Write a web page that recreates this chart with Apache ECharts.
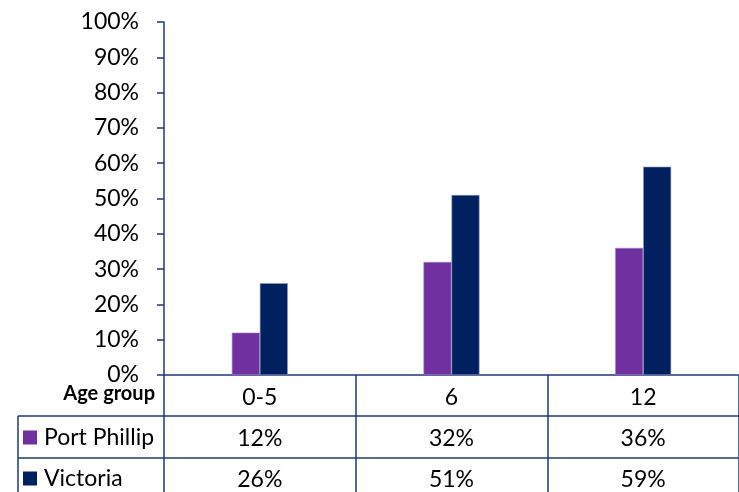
<!DOCTYPE html>
<html>
<head>
<meta charset="utf-8">
<script src="https://cdn.jsdelivr.net/npm/echarts@6/dist/echarts.min.js"></script>
<style>
  html, body { margin: 0; padding: 0; background: #fff; }
  #chart { width: 739px; height: 492px; }
</style>
</head>
<body>
<div id="chart"></div>
<script>
// Age groups along the category axis
const ageGroups = ['0-5', '6', '12'];
// Share of children (percent) per area
const portPhillip = [12, 32, 36];
const victoria = [26, 51, 59];
// Value axis ticks
const yTicks = [0, 10, 20, 30, 40, 50, 60, 70, 80, 90, 100];

const seriesNames = ['Port Phillip', 'Victoria'];
const seriesColors = ['#7030A0', '#002060'];
const lineColor = '#1F3A78';
const font = 'Lato, "Open Sans", sans-serif';
const fontSize = 23;

const chart = echarts.init(document.getElementById('chart'), null, { renderer: 'canvas' });

// Each category label doubles as a column of the data table below the axis
function tableColumn(value, idx) {
  return '{cat|' + value + '}\n{v|' + portPhillip[idx] + '%}\n{v|' + victoria[idx] + '%}';
}

// One legend per table row so each key sits at the start of its row
function rowLegend(name, top) {
  return {
    left: 18,
    top: top,
    icon: 'rect',
    itemWidth: 14,
    itemHeight: 14,
    selectedMode: false,
    data: [name],
    itemStyle: { borderWidth: 0 },
    textStyle: { fontFamily: font, fontSize: fontSize, color: '#000', padding: [0, 0, 0, 2] }
  };
}

const option = {
  animation: false,
  backgroundColor: '#ffffff',
  grid: { left: 164, right: -4, top: 22, bottom: 117, containLabel: false },
  legend: [rowLegend(seriesNames[0], 421), rowLegend(seriesNames[1], 462)],
  xAxis: {
    type: 'category',
    data: ageGroups,
    axisLine: { show: true, lineStyle: { color: lineColor, width: 1.5 } },
    axisTick: { show: true, alignWithLabel: false, length: 125, lineStyle: { color: lineColor, width: 1.5 } },
    axisLabel: {
      margin: 2,
      formatter: tableColumn,
      rich: {
        cat: { fontFamily: font, fontSize: fontSize, color: '#000', lineHeight: 41, align: 'center' },
        v: { fontFamily: font, fontSize: fontSize, color: '#000', lineHeight: 41, align: 'center' }
      }
    },
    splitLine: { show: false }
  },
  yAxis: {
    type: 'value',
    min: yTicks[0],
    max: yTicks[yTicks.length - 1],
    interval: yTicks[1] - yTicks[0],
    axisLine: { show: true, lineStyle: { color: lineColor, width: 1.5 } },
    axisTick: { show: true, length: 7, lineStyle: { color: lineColor, width: 1.5 } },
    axisLabel: {
      margin: 25,
      fontFamily: font,
      fontSize: fontSize,
      color: '#000',
      formatter: v => v + '%'
    },
    splitLine: { show: false }
  },
  series: [
    {
      name: seriesNames[0],
      type: 'bar',
      data: portPhillip,
      barWidth: 28,
      barGap: '0%',
      itemStyle: { color: seriesColors[0], borderColor: '#9c84c4', borderWidth: 0.6 }
    },
    {
      name: seriesNames[1],
      type: 'bar',
      data: victoria,
      barWidth: 28,
      barGap: '0%',
      itemStyle: { color: seriesColors[1], borderColor: '#8c9ac0', borderWidth: 0.6 }
    }
  ]
};

chart.setOption(option);

// Table rules: row separators and left border, plus the row header text
const rowTop1 = 416, rowTop2 = 458;
chart.setOption({
  graphic: [
    { type: 'line', shape: { x1: 18, y1: rowTop1, x2: 739, y2: rowTop1 }, style: { stroke: lineColor, lineWidth: 1.5 }, silent: true },
    { type: 'line', shape: { x1: 18, y1: rowTop2, x2: 739, y2: rowTop2 }, style: { stroke: lineColor, lineWidth: 1.5 }, silent: true },
    { type: 'line', shape: { x1: 18, y1: rowTop1, x2: 18, y2: 492 }, style: { stroke: lineColor, lineWidth: 1.5 }, silent: true },
    {
      type: 'text', right: 739 - 155, top: 384,
      style: { text: 'Age group', fontFamily: font, fontSize: 20, fontWeight: 'bold', fill: '#000', textAlign: 'right' },
      silent: true
    }
  ]
});
</script>
</body>
</html>
